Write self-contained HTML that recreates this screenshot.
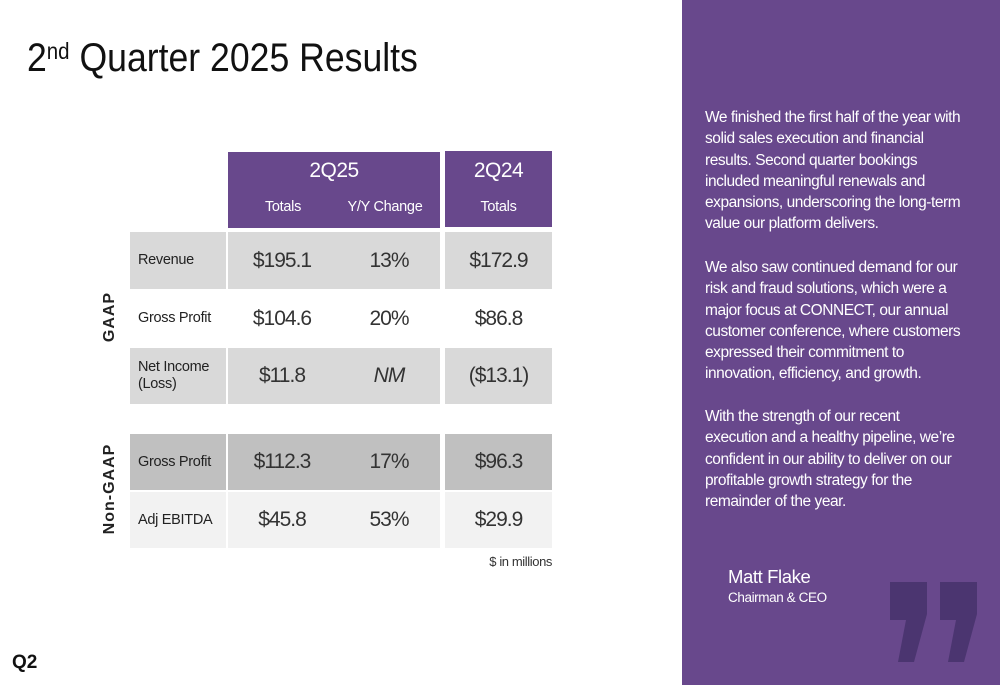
<!DOCTYPE html>
<html><head><meta charset="utf-8"><style>
*{margin:0;padding:0;box-sizing:border-box}
body{width:1000px;height:685px;position:relative;background:#fff;font-family:"Liberation Sans",sans-serif;color:#222;overflow:hidden}
.a{position:absolute}
.c{position:absolute;display:flex;align-items:center;justify-content:center;font-size:21px;color:#333;letter-spacing:-1px}
.lbl{position:absolute;display:flex;align-items:center;padding-left:8px;font-size:14.5px;line-height:17px;color:#222;letter-spacing:-0.3px}
.h{background:#68488c;color:#fff}
.side{position:absolute;font-weight:bold;font-size:16px;transform:rotate(-90deg);transform-origin:center;white-space:nowrap;letter-spacing:1px}
.panel{position:absolute;left:682px;top:0;width:318px;height:685px;background:#68488c;color:#fff}
.p{position:absolute;left:23px;font-size:15.5px;line-height:21.3px;white-space:nowrap;letter-spacing:-0.45px}
</style></head><body>
<div class="a" style="left:27px;top:36px;font-size:40px;color:#111;white-space:nowrap;transform:scaleX(0.89);transform-origin:left top">2<sup style="font-size:23px;vertical-align:top;position:relative;top:2px">nd</sup> Quarter 2025 Results</div>

<div class="a h" style="left:228px;top:152px;width:212px;height:76px"></div>
<div class="a" style="left:228px;top:159px;width:212px;text-align:center;color:#fff;font-size:21px;letter-spacing:-0.5px">2Q25</div>
<div class="a" style="left:228px;top:199px;width:110px;text-align:center;color:#fff;font-size:14.5px;letter-spacing:-0.3px">Totals</div>
<div class="a" style="left:330px;top:199px;width:110px;text-align:center;color:#fff;font-size:14.5px;letter-spacing:-0.3px">Y/Y Change</div>
<div class="a h" style="left:445px;top:151px;width:107px;height:76px"></div>
<div class="a" style="left:445px;top:159px;width:107px;text-align:center;color:#fff;font-size:21px;letter-spacing:-0.5px">2Q24</div>
<div class="a" style="left:445px;top:199px;width:107px;text-align:center;color:#fff;font-size:14.5px;letter-spacing:-0.3px">Totals</div>

<div id="rows"></div>

<div class="side" style="left:80px;top:308px;width:60px;text-align:center">GAAP</div>
<div class="side" style="left:60px;top:480px;width:100px;text-align:center">Non-GAAP</div>
<div class="a" style="left:470px;top:554px;width:82px;text-align:right;font-size:13px;color:#333;letter-spacing:-0.4px">$ in millions</div>
<div class="a" style="left:12px;top:652px;font-size:19px;font-weight:bold;color:#111">Q2</div>

<div class="panel">
<div class="p" style="top:107px">We finished the first half of the year with<br>solid sales execution and financial<br>results. Second quarter bookings<br>included meaningful renewals and<br>expansions, underscoring the long-term<br>value our platform delivers.</div>
<div class="p" style="top:257px">We also saw continued demand for our<br>risk and fraud solutions, which were a<br>major focus at CONNECT, our annual<br>customer conference, where customers<br>expressed their commitment to<br>innovation, efficiency, and growth.</div>
<div class="p" style="top:406px">With the strength of our recent<br>execution and a healthy pipeline, we’re<br>confident in our ability to deliver on our<br>profitable growth strategy for the<br>remainder of the year.</div>
<div class="a" style="left:46px;top:566px;font-size:18.5px;letter-spacing:-0.4px">Matt Flake</div>
<div class="a" style="left:46px;top:590px;font-size:13.5px;letter-spacing:-0.4px">Chairman &amp; CEO</div>
<svg class="a" style="left:204px;top:582px" width="96" height="80" viewBox="0 0 96 80">
<polygon points="4,0 41,0 41,32 28,80 12,80 20,38 4,38" fill="#4b3570"/>
<polygon points="54,0 91,0 91,32 78,80 62,80 70,38 54,38" fill="#4b3570"/>
</svg>
</div>

<script>
const labels=["Revenue","Gross Profit","Net Income<br>(Loss)","Gross Profit","Adj EBITDA"];
const totals25=["$195.1","$104.6","$11.8","$112.3","$45.8"];
const yy=["13%","20%","NM","17%","53%"];
const totals24=["$172.9","$86.8","($13.1)","$96.3","$29.9"];
const tops=[232,291,348,434,492],hs=[57,55,56,56,56];
const bgs=["#d9d9d9","#ffffff","#d9d9d9","#c0c0c0","#f2f2f2"];
const root=document.getElementById('rows');
labels.forEach((l,i)=>{
  const mk=(cls,x,w,html,bg)=>{const d=document.createElement('div');d.className=cls;d.style.cssText=`left:${x}px;top:${tops[i]}px;width:${w}px;height:${hs[i]}px;background:${bg}`;d.innerHTML=html;root.appendChild(d);return d;};
  const a=mk('lbl',130,96,l,bgs[i]);
  
  
  const b=mk('a',228,212,'',bgs[i]);
  
  
  const c=mk('c',228,108,totals25[i],'transparent');
  
  
  const d=mk('c',335,108,yy[i],'transparent');
  
  
  if(yy[i]==='NM')d.style.fontStyle='italic';
  const e=mk('c',445,107,totals24[i],bgs[i]);
  
  
});
</script>
</body></html>
